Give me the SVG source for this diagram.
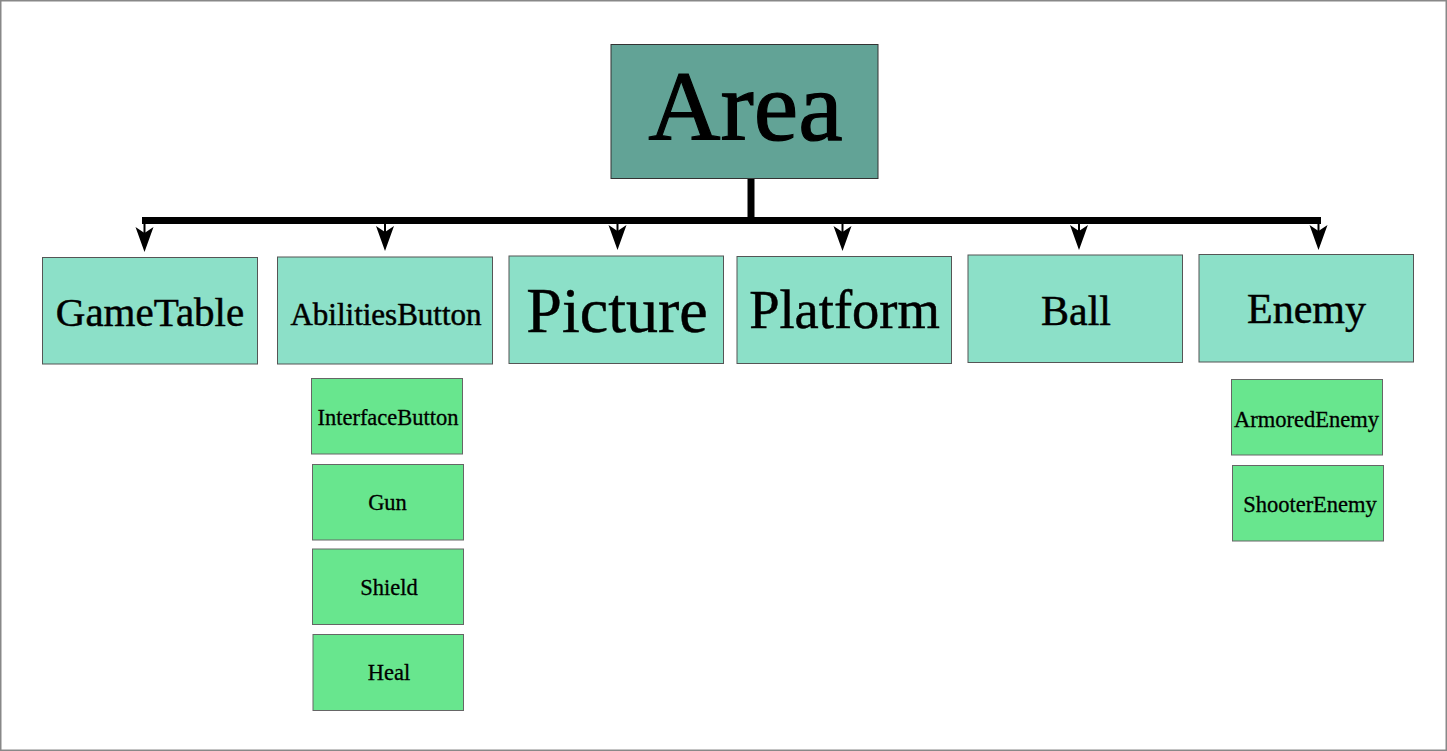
<svg xmlns="http://www.w3.org/2000/svg" width="1447" height="751" viewBox="0 0 1447 751">
<style>
  text { font-family: "Liberation Serif", "Times New Roman", serif; fill: #000; text-anchor: middle; stroke: #000; stroke-width: 0.5; }
  .small { stroke-width: 0.3; }
  .big { stroke-width: 1.2; }
  .main { fill: #8ce0c8; stroke: #555; stroke-width: 1; }
  .sub { fill: #68e68e; stroke: #666; stroke-width: 1; }
  .root { fill: #62a396; stroke: #333; stroke-width: 1; }
  .bus { stroke: #000; stroke-width: 7; fill: none; }
  .stem { stroke: #000; stroke-width: 2; fill: none; }
  .head { fill: #000; }
</style>
<defs>
  <path id="ah" d="M -9,0 L 0,6 L 9,0 L 0,25 Z"/>
</defs>
<rect x="0.75" y="0.75" width="1445.5" height="749.5" fill="#fff" stroke="#888" stroke-width="1.5"/>

<g id="connectors">
  <line class="bus" x1="751" y1="178" x2="751" y2="220"/>
  <line class="bus" x1="142" y1="220.5" x2="1321" y2="220.5"/>
  <g class="stem">
    <line x1="144.5" y1="220" x2="144.5" y2="235"/>
    <line x1="385" y1="220" x2="385" y2="235"/>
    <line x1="617.5" y1="220" x2="617.5" y2="235"/>
    <line x1="842.5" y1="220" x2="842.5" y2="235"/>
    <line x1="1079" y1="220" x2="1079" y2="235"/>
    <line x1="1318.5" y1="220" x2="1318.5" y2="235"/>
  </g>
  <g class="head">
    <use href="#ah" x="144.5" y="227"/>
    <use href="#ah" x="385" y="226"/>
    <use href="#ah" x="617.5" y="225"/>
    <use href="#ah" x="842.5" y="226"/>
    <use href="#ah" x="1079" y="225"/>
    <use href="#ah" x="1318.5" y="225"/>
  </g>
</g>

<g id="area">
  <rect class="root" x="611" y="44.5" width="267" height="134"/>
  <text class="big" x="745.5" y="140" font-size="100">Area</text>
</g>

<g id="gametable">
  <rect class="main" x="42.5" y="257.5" width="215" height="106.5"/>
  <text x="150" y="326" font-size="41">GameTable</text>
</g>
<g id="abilitiesbutton">
  <rect class="main" x="277.5" y="257" width="215" height="107"/>
  <text x="386" y="325" font-size="31">AbilitiesButton</text>
</g>
<g id="picture">
  <rect class="main" x="509" y="256" width="214.5" height="107.5"/>
  <text x="617" y="331.5" font-size="64">Picture</text>
</g>
<g id="platform">
  <rect class="main" x="737" y="256.5" width="214.5" height="107"/>
  <text x="844.5" y="327.5" font-size="54.5">Platform</text>
</g>
<g id="ball">
  <rect class="main" x="968" y="255" width="214.5" height="107.5"/>
  <text x="1076" y="325" font-size="42">Ball</text>
</g>
<g id="enemy">
  <rect class="main" x="1199" y="254.5" width="214.5" height="107.5"/>
  <text x="1306.5" y="323" font-size="42">Enemy</text>
</g>

<g id="interfacebutton">
  <rect class="sub" x="311.5" y="378.5" width="151" height="75.5"/>
  <text class="small" x="388" y="425" font-size="22.5">InterfaceButton</text>
</g>
<g id="gun">
  <rect class="sub" x="312.5" y="464.5" width="151" height="75.5"/>
  <text class="small" x="387.5" y="510" font-size="22.5">Gun</text>
</g>
<g id="shield">
  <rect class="sub" x="312.5" y="549" width="151" height="75.5"/>
  <text class="small" x="389" y="595" font-size="22.5">Shield</text>
</g>
<g id="heal">
  <rect class="sub" x="313" y="634.5" width="150.5" height="76"/>
  <text class="small" x="389" y="680" font-size="22.5">Heal</text>
</g>
<g id="armoredenemy">
  <rect class="sub" x="1231.5" y="379.5" width="151" height="75.5"/>
  <text class="small" x="1306.5" y="426.5" font-size="22.5">ArmoredEnemy</text>
</g>
<g id="shooterenemy">
  <rect class="sub" x="1232.5" y="465.5" width="151" height="75.5"/>
  <text class="small" x="1310" y="511.5" font-size="22.5">ShooterEnemy</text>
</g>
</svg>
